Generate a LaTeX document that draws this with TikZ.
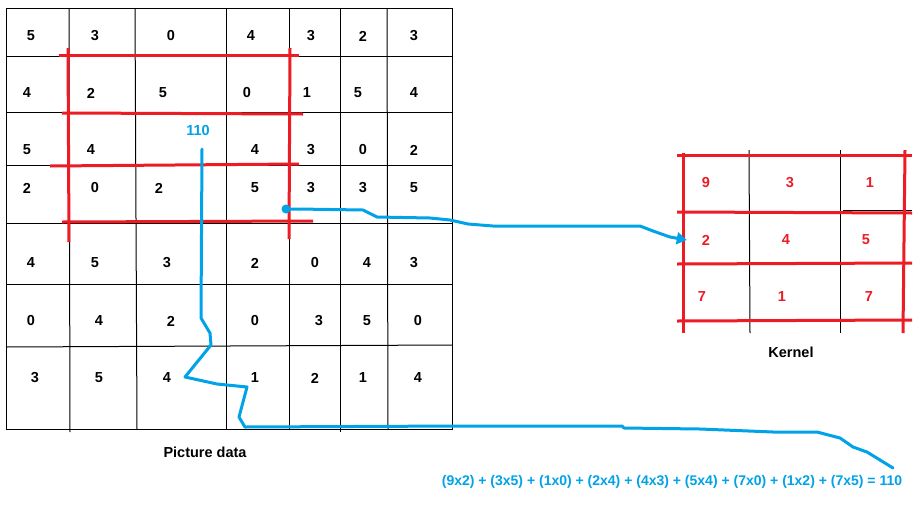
\documentclass[tikz,border=0pt]{standalone}
\usepackage{fontspec}
\setmainfont{Liberation Sans}
\usetikzlibrary{arrows.meta}
\definecolor{paintred}{HTML}{ED1C24}
\definecolor{paintblue}{HTML}{00A2E8}
\tikzset{
  cell/.style={font=\fontsize{14.5}{17}\selectfont\bfseries},
  kcell/.style={cell, text=paintred},
  gridpen/.style={black, line width=1pt},
  redpen/.style={paintred, line width=3pt},
  bluepen/.style={paintblue, line width=3pt, line join=round, line cap=round}
}
\begin{document}
\begin{tikzpicture}[x=1pt,y=1pt]
  \tikzstyle{every node}+=[inner sep=0pt]
  \useasboundingbox [fill=white] (0,0) rectangle (924,-512);
  % picture data grid
  \draw [gridpen] (6,-8) rectangle (452,-429);
  \draw [gridpen] (6,-56) -- (452,-56);
  \draw [gridpen] (6,-112) -- (452,-112);
  \draw [gridpen] (6,-165) -- (452,-165);
  \draw [gridpen] (6,-223) -- (452,-223);
  \draw [gridpen] (6,-284) -- (452,-284);
  \draw [gridpen] (6,-347) -- (452,-345);
  \draw [gridpen] (69,-8) -- (70,-432);
  \draw [gridpen] (135,-8) -- (137,-429);
  \draw [gridpen] (226,-8) -- (226,-429);
  \draw [gridpen] (289,-8) -- (289,-429);
  \draw [gridpen] (340,-8) -- (340,-432);
  \draw [gridpen] (387,-8) -- (388,-429);
  % window on the picture
  \draw [redpen] (59,-55) -- (299,-55);
  \draw [redpen] (62,-113) -- (303,-114);
  \draw [redpen] (50,-166) -- (299,-164);
  \draw [redpen] (62,-222) -- (313,-221);
  \draw [redpen] (68,-48) -- (69,-242);
  \draw [redpen] (290,-48) -- (289,-239);
  % kernel grid
  \draw [gridpen] (749,-150) -- (750,-333);
  \draw [gridpen] (840,-150) -- (840,-333);
  \draw [gridpen] (843,-210) -- (912,-210);
  \draw [redpen] (677,-155) -- (912,-155);
  \draw [redpen] (677,-212) -- (912,-213);
  \draw [redpen] (677,-264) -- (912,-263);
  \draw [redpen] (677,-321) -- (912,-320);
  \draw [redpen] (683,-153) -- (683,-333);
  \draw [redpen] (905,-150) -- (903,-333);
  % picture data values
  \draw (31,-36) node (p11) [cell] {5};
  \draw (95,-36) node (p12) [cell] {3};
  \draw (171,-36) node (p13) [cell] {0};
  \draw (251,-36) node (p14) [cell] {4};
  \draw (311,-36) node (p15) [cell] {3};
  \draw (363,-36) node (p16) [cell] {2};
  \draw (414,-36) node (p17) [cell] {3};
  \draw (27,-93) node (p21) [cell] {4};
  \draw (91,-93) node (p22) [cell] {2};
  \draw (163,-93) node (p23) [cell] {5};
  \draw (247,-93) node (p24) [cell] {0};
  \draw (307,-93) node (p25) [cell] {1};
  \draw (358,-93) node (p26) [cell] {5};
  \draw (414,-93) node (p27) [cell] {4};
  \draw (27,-150) node (p31) [cell] {5};
  \draw (91,-150) node (p32) [cell] {4};
  \draw (255,-150) node (p34) [cell] {4};
  \draw (311,-150) node (p35) [cell] {3};
  \draw (363,-150) node (p36) [cell] {0};
  \draw (414,-150) node (p37) [cell] {2};
  \draw (27,-188) node (p41) [cell] {2};
  \draw (95,-188) node (p42) [cell] {0};
  \draw (159,-188) node (p43) [cell] {2};
  \draw (255,-188) node (p44) [cell] {5};
  \draw (311,-188) node (p45) [cell] {3};
  \draw (363,-188) node (p46) [cell] {3};
  \draw (414,-188) node (p47) [cell] {5};
  \draw (31,-263) node (p51) [cell] {4};
  \draw (95,-263) node (p52) [cell] {5};
  \draw (167,-263) node (p53) [cell] {3};
  \draw (255,-263) node (p54) [cell] {2};
  \draw (315,-263) node (p55) [cell] {0};
  \draw (367,-263) node (p56) [cell] {4};
  \draw (414,-263) node (p57) [cell] {3};
  \draw (31,-321) node (p61) [cell] {0};
  \draw (99,-321) node (p62) [cell] {4};
  \draw (171,-321) node (p63) [cell] {2};
  \draw (255,-321) node (p64) [cell] {0};
  \draw (319,-321) node (p65) [cell] {3};
  \draw (367,-321) node (p66) [cell] {5};
  \draw (418,-321) node (p67) [cell] {0};
  \draw (35,-378) node (p71) [cell] {3};
  \draw (99,-378) node (p72) [cell] {5};
  \draw (167,-378) node (p73) [cell] {4};
  \draw (255,-378) node (p74) [cell] {1};
  \draw (315,-378) node (p75) [cell] {2};
  \draw (363,-378) node (p76) [cell] {1};
  \draw (418,-378) node (p77) [cell] {4};
  \draw (205,-452) node (pic) [cell] {Picture data};
  % kernel values
  \draw (706,-183) node (k11) [kcell] {9};
  \draw (790,-183) node (k12) [kcell] {3};
  \draw (870,-183) node (k13) [kcell] {1};
  \draw (706,-240) node (k21) [kcell] {2};
  \draw (786,-240) node (k22) [kcell] {4};
  \draw (866,-240) node (k23) [kcell] {5};
  \draw (702,-297) node (k31) [kcell] {7};
  \draw (782,-297) node (k32) [kcell] {1};
  \draw (869,-297) node (k33) [kcell] {7};
  \draw (791,-352) node (kern) [cell] {Kernel};
  % result and sum
  \draw (198,-131) node (res) [cell, text=paintblue] {110};
  \draw (672,-482) node (eq) [cell, text=paintblue, font=\fontsize{14}{16}\selectfont\bfseries]
    {(9x2) + (3x5) + (1x0) + (2x4) + (4x3) + (5x4) + (7x0) + (1x2) + (7x5) = 110};
  \coordinate (dot) at (286,-209);
  \coordinate (start) at (202,-149);
  \coordinate (finish) at (893,-468);
  \fill [paintblue] (dot) circle (4.5);
  \draw [bluepen, -{Triangle[length=10pt,width=12pt]}] (dot) -- (297,-209) -- (363,-210)
    -- (377,-217) -- (430,-218) -- (450,-220) -- (468,-224) -- (493,-226) -- (640,-226)
    -- (653,-231) -- (670,-237) -- ([xshift=-15pt]k21.west);
  \draw [bluepen] (start) -- (201,-318) -- (210,-333) -- (211,-345) -- (185,-377)
    -- (217,-384) -- (247,-387) -- (239,-417) -- (245,-427) -- (460,-426) -- (622,-426)
    -- (624,-428) -- (700,-429) -- (773,-432) -- (817,-432) -- (840,-438) -- (853,-447)
    -- (867,-452) -- (finish);
\end{tikzpicture}
\end{document}
